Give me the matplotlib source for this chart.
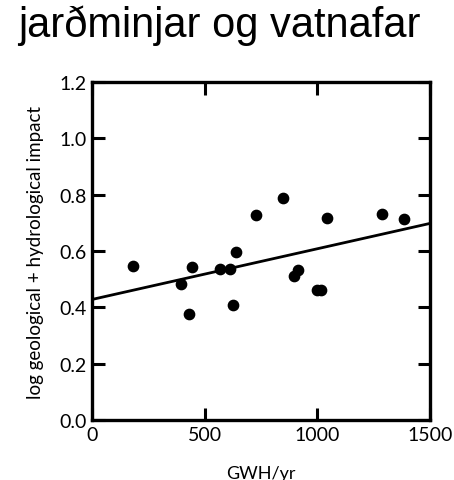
import matplotlib
matplotlib.use("Agg")
import matplotlib.pyplot as plt

# values
gwh = [180, 395, 443, 430, 566, 612, 624, 641, 729, 848,
       898, 915, 997, 1015, 1042, 1286, 1385]
impact = [0.546, 0.482, 0.544, 0.377, 0.537, 0.537, 0.408, 0.598, 0.727, 0.787,
          0.513, 0.532, 0.461, 0.461, 0.718, 0.730, 0.714]
trend_x = [0, 1500]
trend_y = [0.428, 0.698]

xticks = [0, 500, 1000, 1500]
yticks = [0.0, 0.2, 0.4, 0.6, 0.8, 1.0, 1.2]

LABEL_FONT = ["Lato", "DejaVu Sans"]

fig = plt.figure(figsize=(4.54, 4.81), dpi=100)
ax = fig.add_axes([0.2026, 0.1247, 0.7445, 0.7027])

ax.scatter(gwh, impact, s=55, color="black", zorder=3, clip_on=False)
ax.plot(trend_x, trend_y, color="black", lw=2, zorder=2)

ax.set_xlim(0, 1500)
ax.set_ylim(0, 1.2)
ax.set_xticks(xticks)
ax.set_yticks(yticks)
ax.set_xticklabels([str(v) for v in xticks], family=LABEL_FONT, fontsize=14)
ax.set_yticklabels([f"{v:.1f}" for v in yticks], family=LABEL_FONT, fontsize=14)
ax.tick_params(direction="in", length=9, width=2.2, top=True, right=True,
               pad=4)
for sp in ax.spines.values():
    sp.set_linewidth(2.4)

ax.set_xlabel("GWH/yr", family=LABEL_FONT, fontsize=13, labelpad=16)
ax.set_ylabel("log geological + hydrological impact", family=LABEL_FONT,
              fontsize=13.5, labelpad=11)

fig.text(0.482, 0.923, "jarðminjar og vatnafar", ha="center", va="baseline",
         family=["Liberation Sans", "DejaVu Sans"], fontsize=30)

fig.savefig("out.png", dpi=100)
